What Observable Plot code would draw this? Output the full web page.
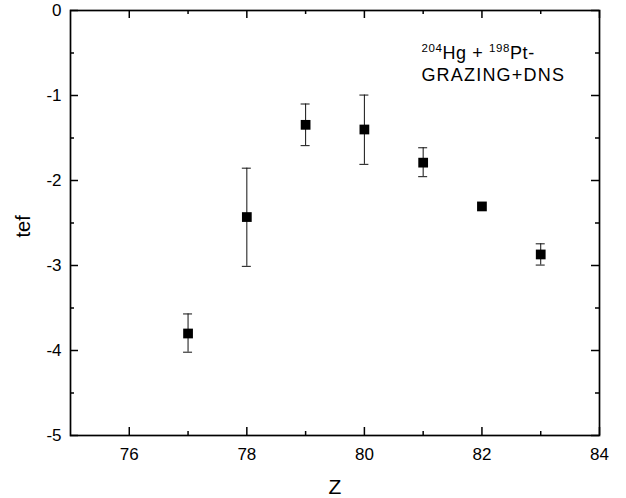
<!DOCTYPE html>
<html><head><meta charset="utf-8">
<script src="https://cdn.jsdelivr.net/npm/d3@7"></script>
<script src="https://cdn.jsdelivr.net/npm/@observablehq/plot@0.6"></script>
<style>body{margin:0;background:#fff} svg{display:block}</style>
</head><body><div id="chart"></div>
<script>
// ---- data ----
const zValues   = [77, 78, 79, 80, 81, 82, 83];
const tefValues = [-3.80, -2.43, -1.345, -1.40, -1.79, -2.305, -2.87];
const errPlus   = [0.23, 0.575, 0.245, 0.405, 0.175, 0, 0.125];
const errMinus  = [0.22, 0.58, 0.245, 0.41, 0.165, 0, 0.125];

const xMajorTicks = [76, 78, 80, 82, 84];
const xMinorTicks = [77, 79, 81, 83];
const yMajorTicks = [0, -1, -2, -3, -4, -5];
const yMinorTicks = [-0.5, -1.5, -2.5, -3.5, -4.5];

const xLabel = "Z";
const yLabel = "tef";
const annotationLines = ["204Hg + 198Pt-", "GRAZING+DNS"];
const annotationX = [80.97, 80.97];
const annotationY = [-0.565, -0.825];
const annotationParts = [["204", true], ["Hg + ", false], ["198", true], ["Pt-", false]];

// ---- layout ----
const W = 626, H = 498, mL = 70, mR = 27, mT = 10, mB = 63;
const frameW = W - mL - mR, frameH = H - mT - mB;
const MAJ = 8, MIN = 4;

const data = zValues.map((z, i) => ({
  z, tef: tefValues[i], hi: tefValues[i] + errPlus[i], lo: tefValues[i] - errMinus[i], err: errPlus[i] > 0
}));
const errData = data.filter(d => d.err);
const annData = annotationLines.map((t, i) => ({t, x: annotationX[i], y: annotationY[i]}));

const font = "'Liberation Sans', Arial, Helvetica, sans-serif";

const plot = Plot.plot({
  width: W, height: H,
  marginLeft: mL, marginRight: mR, marginTop: mT, marginBottom: mB,
  style: {fontFamily: font, fontSize: "17px", color: "#000", background: "#fff"},
  x: {domain: [75, 84]},
  y: {domain: [-5, 0]},
  marks: [
    Plot.axisX(xMajorTicks, {tickSize: 0, tickPadding: 12, label: null, tickFormat: d => String(d), fontSize: 17}),
    Plot.axisY(yMajorTicks, {tickSize: 0, tickPadding: 9, label: null, tickFormat: d => String(d), fontSize: 17}),
    // inward ticks: bottom / top
    Plot.tickX(xMajorTicks, {x: d => d, insetTop: frameH - MAJ, stroke: "#000", strokeWidth: 1.5}),
    Plot.tickX(xMajorTicks, {x: d => d, insetBottom: frameH - MAJ, stroke: "#000", strokeWidth: 1.5}),
    Plot.tickX(xMinorTicks, {x: d => d, insetTop: frameH - MIN, stroke: "#000", strokeWidth: 1.5}),
    Plot.tickX(xMinorTicks, {x: d => d, insetBottom: frameH - MIN, stroke: "#000", strokeWidth: 1.5}),
    // inward ticks: left / right
    Plot.tickY(yMajorTicks, {y: d => d, insetRight: frameW - MAJ, stroke: "#000", strokeWidth: 1.5}),
    Plot.tickY(yMajorTicks, {y: d => d, insetLeft: frameW - MAJ, stroke: "#000", strokeWidth: 1.5}),
    Plot.tickY(yMinorTicks, {y: d => d, insetRight: frameW - MIN, stroke: "#000", strokeWidth: 1.5}),
    Plot.tickY(yMinorTicks, {y: d => d, insetLeft: frameW - MIN, stroke: "#000", strokeWidth: 1.5}),
    Plot.frame({stroke: "#000", strokeWidth: 1.7}),
    // error bars
    Plot.ruleX(errData, {x: "z", y1: "lo", y2: "hi", stroke: "#111", strokeWidth: 1}),
    Plot.ruleY(errData, {y: "hi", x1: "z", x2: "z", insetLeft: -4.5, insetRight: -4.5, stroke: "#111", strokeWidth: 1}),
    Plot.ruleY(errData, {y: "lo", x1: "z", x2: "z", insetLeft: -4.5, insetRight: -4.5, stroke: "#111", strokeWidth: 1}),
    // points
    Plot.dot(data, {x: "z", y: "tef", symbol: "square", r: 5.5, fill: "#000", stroke: "none"}),
    // annotation
    Plot.text(annData, {x: "x", y: "y", text: "t", textAnchor: "start", lineAnchor: "bottom", fontSize: 18, fill: "#000"}),
    // axis titles
    Plot.text([xLabel], {text: d => d, frameAnchor: "bottom", lineAnchor: "bottom", dy: 58, fontSize: 21, fill: "#000"}),
    Plot.text([yLabel], {text: d => d, frameAnchor: "left", rotate: -90, dx: -46.5, dy: 14.5, fontSize: 20, fill: "#000"})
  ]
});

// letter spacing and superscripts in the annotation
d3.select(plot).selectAll("text").each(function () {
  if (this.textContent === annotationLines[1]) {
    this.setAttribute("letter-spacing", "1.2");
  }
  if (this.textContent === annotationLines[0]) {
    this.setAttribute("letter-spacing", "0.6");
    this.style.whiteSpace = "pre";
    const t = d3.select(this);
    t.text(null);
    let prevSup = false;
    for (const [s, sup] of annotationParts) {
      const ts = t.append("tspan").text(s);
      if (sup) { ts.attr("font-size", 11.5).attr("dy", -7); }
      else if (prevSup) { ts.attr("dy", 7); }
      prevSup = sup;
    }
  }
});

document.getElementById("chart").appendChild(plot);
</script>
</body></html>
